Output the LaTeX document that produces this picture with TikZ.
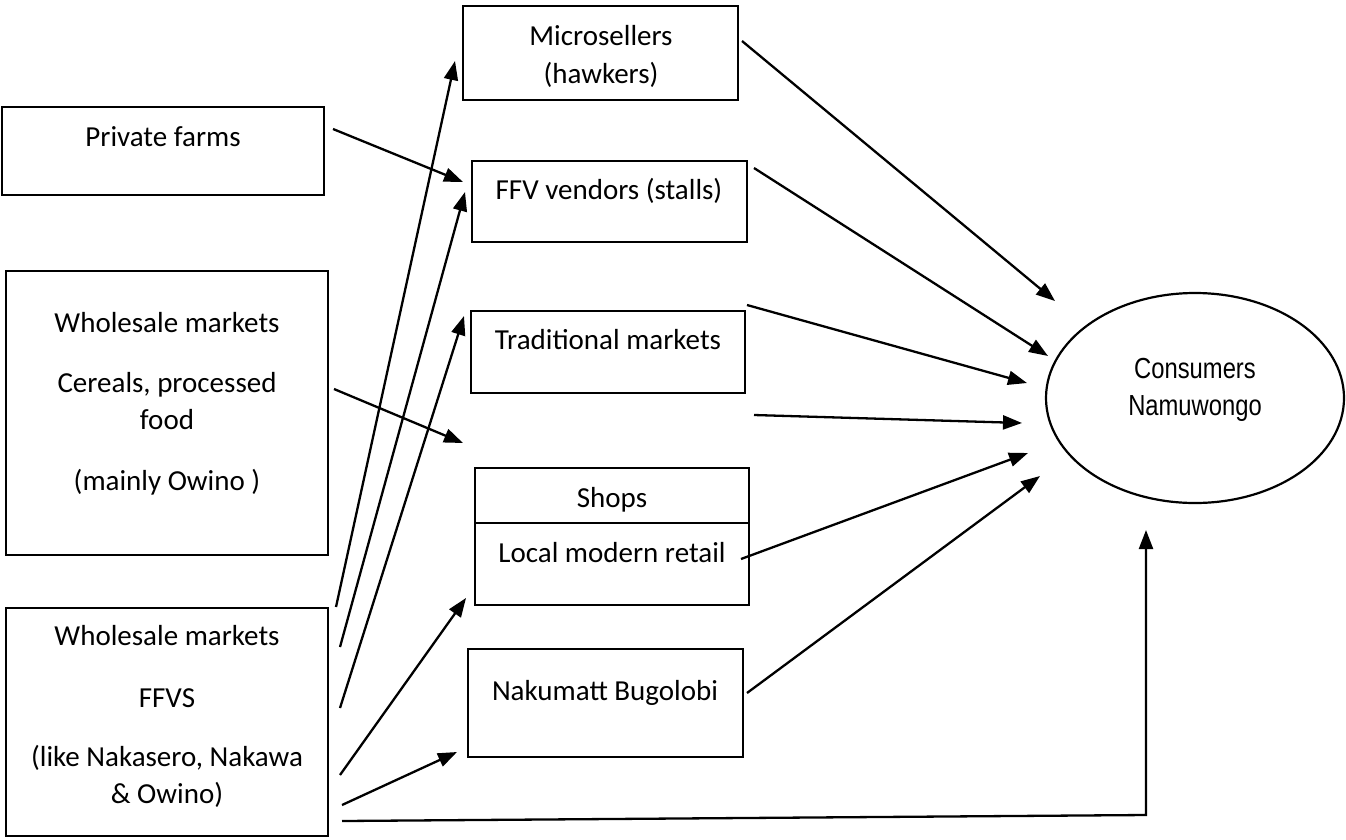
\documentclass[tikz,border=0pt]{standalone}
\usepackage{fontspec}
\setmainfont{Carlito}
\newfontfamily\arialf{Liberation Sans}
\usetikzlibrary{arrows.meta,shapes.geometric}
\begin{document}
\begin{tikzpicture}[x=1pt,y=-1pt,
  box/.style={draw, line width=2.5pt, rectangle, inner sep=0pt, outer sep=0pt},
  txt/.style={anchor=base, inner sep=0pt, font=\fontsize{29}{35}\selectfont},
  ctxt/.style={anchor=base, inner sep=0pt, font=\arialf\fontsize{29}{35}\selectfont},
  arr/.style={line width=2.3pt, -{Triangle[length=19pt,width=14pt]}},
]
\useasboundingbox (0,0) rectangle (1346,839);

% boxes
\node[box, minimum width=322pt, minimum height=88pt]  (priv)  at (163,151) {};
\node[box, minimum width=322pt, minimum height=284pt] (whone) at (167,413) {};
\node[box, minimum width=322pt, minimum height=228pt] (whtwo) at (167,722) {};
\node[box, minimum width=275pt, minimum height=94pt]  (micro) at (600.5,53) {};
\node[box, minimum width=275pt, minimum height=81pt]  (ffv)   at (609.5,201.5) {};
\node[box, minimum width=274pt, minimum height=82pt]  (trad)  at (608,352) {};
\node[box, minimum width=274pt, minimum height=137pt] (shops) at (612,536.5) {};
\node[box, minimum width=275pt, minimum height=108pt] (naku)  at (605.5,703) {};
\node[draw, ellipse, line width=2.2pt, inner sep=0pt, minimum width=298pt, minimum height=210pt] (cons) at (1195,398) {};
\draw[line width=2.5pt] (shops.west |- 0,523) -- (shops.east |- 0,523);

% texts
\node[txt] (privt) at (163,146) {Private farms};
\node[txt] (microa) at (601,45) {Microsellers};
\node[txt] (microb) at (601,83) {(hawkers)};
\node[txt] (ffvt) at (609,199) {FFV vendors (stalls)};
\node[txt] (tradt) at (608,349) {Traditional markets};
\node[txt] (whonea) at (167,332) {Wholesale markets};
\node[txt] (whoneb) at (167,392) {Cereals, processed};
\node[txt] (whonec) at (167,429) {food};
\node[txt] (whoned) at (167,490) {(mainly Owino )};
\node[txt] (whtwoa) at (167,645) {Wholesale markets};
\node[txt] (whtwob) at (167,707) {FFVS};
\node[txt] (whtwoc) at (167,766) {(like Nakasero, Nakawa};
\node[txt] (whtwod) at (167,803) {\& Owino)};
\node[txt] (shopsa) at (612,507) {Shops};
\node[txt] (shopsb) at (612,562) {Local modern retail};
\node[txt] (nakut) at (605,700) {Nakumatt Bugolobi};
\node[ctxt] (consa) at (1195,378) {\scalebox{0.82}[1]{Consumers}};
\node[ctxt] (consb) at (1195,415) {\scalebox{0.82}[1]{Namuwongo}};

% connector end points
\coordinate (privout) at (333,129);
\coordinate (ffvinA) at (463,182);
\coordinate (whoneout) at (334,389);
\coordinate (freein) at (463,443);
\coordinate (wtA) at (336,607);
\coordinate (microin) at (455,61);
\coordinate (wtB) at (340,647);
\coordinate (ffvinB) at (465,192);
\coordinate (wtC) at (340,708);
\coordinate (tradin) at (464,316);
\coordinate (wtD) at (340,775);
\coordinate (shopsin) at (466,598);
\coordinate (wtE) at (342,805);
\coordinate (nakuin) at (457,752);
\coordinate (wtF) at (342,821);
\coordinate (corner) at (1146,815);
\coordinate (consinG) at (1146,530);

\coordinate (microout) at (742,41);
\coordinate (consinA) at (1055,301);
\coordinate (ffvout) at (754,168);
\coordinate (consinB) at (1048,356);
\coordinate (tradout) at (747,305);
\coordinate (consinC) at (1027,383);
\coordinate (freeout) at (754,415);
\coordinate (consinD) at (1022,423);
\coordinate (shopsout) at (741,559);
\coordinate (consinE) at (1028,453);
\coordinate (nakuout) at (747,693);
\coordinate (consinF) at (1040,476);

% connectors
\draw[arr] (privout) -- (ffvinA);
\draw[arr] (whoneout) -- (freein);
\draw[arr] (wtA) -- (microin);
\draw[arr] (wtB) -- (ffvinB);
\draw[arr] (wtC) -- (tradin);
\draw[arr] (wtD) -- (shopsin);
\draw[arr] (wtE) -- (nakuin);
\draw[arr] (wtF) -- (corner) -- (consinG);

\draw[arr] (microout) -- (consinA);
\draw[arr] (ffvout) -- (consinB);
\draw[arr] (tradout) -- (consinC);
\draw[arr] (freeout) -- (consinD);
\draw[arr] (shopsout) -- (consinE);
\draw[arr] (nakuout) -- (consinF);
\end{tikzpicture}
\end{document}
